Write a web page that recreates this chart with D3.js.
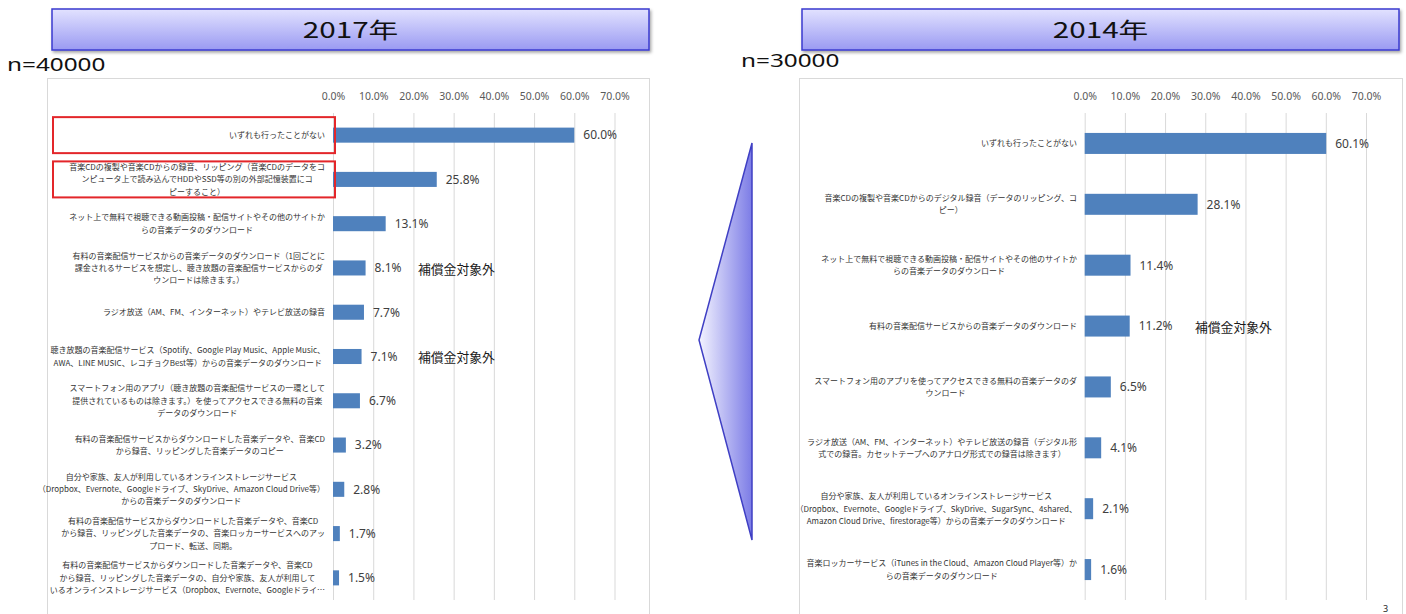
<!DOCTYPE html>
<html><head><meta charset="utf-8">
<script src="https://cdn.jsdelivr.net/npm/d3@7"></script>
<style>body{margin:0;background:#fff;} svg{display:block;}</style>
</head><body>
<svg id="c" width="1406" height="614"></svg>
<script>
// ---------- DATA ----------
const categories2017 = [
  "いずれも行ったことがない",
  "音楽CDの複製や音楽CDからの録音、リッピング（音楽CDのデータをコ\nンピュータ上で読み込んでHDDやSSD等の別の外部記憶装置にコ\nピーすること）",
  "ネット上で無料で視聴できる動画投稿・配信サイトやその他のサイトか\nらの音楽データのダウンロード",
  "有料の音楽配信サービスからの音楽データのダウンロード（1回ごとに\n課金されるサービスを想定し、聴き放題の音楽配信サービスからのダ\nウンロードは除きます。）",
  "ラジオ放送（AM、FM、インターネット）やテレビ放送の録音",
  "聴き放題の音楽配信サービス（Spotify、Google Play Music、Apple Music、\nAWA、LINE MUSIC、レコチョクBest等）からの音楽データのダウンロード",
  "スマートフォン用のアプリ（聴き放題の音楽配信サービスの一環として\n提供されているものは除きます。）を使ってアクセスできる無料の音楽\nデータのダウンロード",
  "有料の音楽配信サービスからダウンロードした音楽データや、音楽CD\nから録音、リッピングした音楽データのコピー",
  "自分や家族、友人が利用しているオンラインストレージサービス\n（Dropbox、Evernote、Googleドライブ、SkyDrive、Amazon Cloud Drive等）\nからの音楽データのダウンロード",
  "有料の音楽配信サービスからダウンロードした音楽データや、音楽CD\nから録音、リッピングした音楽データの、音楽ロッカーサービスへのアッ\nプロード、転送、同期。",
  "有料の音楽配信サービスからダウンロードした音楽データや、音楽CD\nから録音、リッピングした音楽データの、自分や家族、友人が利用して\nいるオンラインストレージサービス（Dropbox、Evernote、Googleドライ…"
];
const values2017 = [60.0, 25.8, 13.1, 8.1, 7.7, 7.1, 6.7, 3.2, 2.8, 1.7, 1.5];

const categories2014 = [
  "いずれも行ったことがない",
  "音楽CDの複製や音楽CDからのデジタル録音（データのリッピング、コ\nピー）",
  "ネット上で無料で視聴できる動画投稿・配信サイトやその他のサイトか\nらの音楽データのダウンロード",
  "有料の音楽配信サービスからの音楽データのダウンロード",
  "スマートフォン用のアプリを使ってアクセスできる無料の音楽データのダ\nウンロード",
  "ラジオ放送（AM、FM、インターネット）やテレビ放送の録音（デジタル形\n式での録音。カセットテープへのアナログ形式での録音は除きます）",
  "自分や家族、友人が利用しているオンラインストレージサービス\n（Dropbox、Evernote、Googleドライブ、SkyDrive、SugarSync、4shared、\nAmazon Cloud Drive、firestorage等）からの音楽データのダウンロード",
  "音楽ロッカーサービス（iTunes in the Cloud、Amazon Cloud Player等）か\nらの音楽データのダウンロード"
];
const values2014 = [60.1, 28.1, 11.4, 11.2, 6.5, 4.1, 2.1, 1.6];

const tickValues = [0, 10, 20, 30, 40, 50, 60, 70];
const exemptIdx2017 = [3, 5];
const exemptIdx2014 = [3];
const highlightIdx2017 = [0, 1];
const exemptText = "補償金対象外";
const titles = ["2017年", "2014年"];
const sampleSizes = ["n=40000", "n=30000"];
const pageNumber = "3";

// ---------- DRAW ----------
const svg = d3.select("#c");
const defs = svg.append("defs");
const tg = defs.append("linearGradient").attr("id","titleGrad").attr("x1",0).attr("y1",0).attr("x2",0).attr("y2",1);
tg.append("stop").attr("offset","0%").attr("stop-color","#e2e2ff");
tg.append("stop").attr("offset","100%").attr("stop-color","#9a9af2");
const ag = defs.append("linearGradient").attr("id","arrowGrad").attr("x1",0).attr("y1",0).attr("x2",1).attr("y2",0);
ag.append("stop").attr("offset","0%").attr("stop-color","#f4f4ff");
ag.append("stop").attr("offset","100%").attr("stop-color","#7c7ce6");
const sh = defs.append("filter").attr("id","shadow").attr("x","-5%").attr("y","-20%").attr("width","110%").attr("height","150%");
sh.append("feDropShadow").attr("dx",1.5).attr("dy",2).attr("stdDeviation",1.5).attr("flood-color","#000").attr("flood-opacity",0.35);

const CJK = "'Noto Sans CJK JP','Noto Sans',sans-serif";

function stretchedText(x, y, txt, size, sx) {
  svg.append("text")
    .attr("transform", `translate(${x},${y}) scale(${sx},1)`)
    .attr("text-anchor", "middle")
    .attr("dy", "0.36em")
    .attr("font-family", CJK)
    .attr("font-size", size)
    .attr("fill", "#111")
    .text(txt);
}

const panels = [
  {cats: categories2017, vals: values2017, exempt: exemptIdx2017, highlight: highlightIdx2017,
   title: titles[0], n: sampleSizes[0], titleX: 52, nX: 7, nY: 65,
   panelX: 47, panelW: 602, x0: 333, x1: 614.5, labelEdge: 325, pad: 0.66, exemptX: 418},
  {cats: categories2014, vals: values2014, exempt: exemptIdx2014, highlight: [],
   title: titles[1], n: sampleSizes[1], titleX: 802, nX: 741, nY: 61,
   panelX: 799, panelW: 603, x0: 1084.7, x1: 1366, labelEdge: 1077, pad: 0.655, exemptX: 1195}
];

const plotTop = 113, plotBottom = 600;

panels.forEach(p => {
  // panel border
  svg.append("rect").attr("x", p.panelX + 0.5).attr("y", 78.5).attr("width", p.panelW).attr("height", 560)
    .attr("fill", "#fff").attr("stroke", "#d9d9d9");
  // title box
  svg.append("rect").attr("x", p.titleX).attr("y", 9).attr("width", 597).attr("height", 41)
    .attr("fill", "url(#titleGrad)").attr("stroke", "#3a3ad0").attr("stroke-width", 1.5)
    .attr("filter", "url(#shadow)");
  stretchedText(p.titleX + 298.5, 30, p.title, 22, 1.35);
  // n=
  svg.append("text")
    .attr("transform", `translate(${p.nX},${p.nY}) scale(1.35,1)`)
    .attr("dy", "0.36em").attr("font-family", "'Noto Sans',sans-serif").attr("font-size", 18)
    .attr("fill", "#111").text(p.n);

  const x = d3.scaleLinear().domain([0, 70]).range([p.x0, p.x1]);
  const y = d3.scaleBand().domain(d3.range(p.cats.length)).range([plotTop, plotBottom])
    .paddingInner(p.pad).paddingOuter(p.pad / 2);

  // gridlines
  const grid = svg.append("g").attr("transform", `translate(0,${plotTop})`)
    .call(d3.axisBottom(x).tickValues(tickValues).tickSize(plotBottom - plotTop).tickFormat(""));
  grid.select(".domain").remove();
  grid.selectAll("line").attr("stroke", "#d9d9d9");

  // tick labels
  const ax = svg.append("g").attr("transform", `translate(0,${plotTop})`)
    .call(d3.axisTop(x).tickValues(tickValues).tickSize(0).tickPadding(13).tickFormat(d => d.toFixed(1) + "%"));
  ax.select(".domain").remove();
  ax.selectAll("text").attr("font-family", "'Noto Sans',sans-serif").attr("font-size", 10.5).attr("fill", "#595959");

  // bars
  svg.append("g").selectAll("rect").data(p.vals).join("rect")
    .attr("x", x(0)).attr("y", (d, i) => y(i)).attr("width", d => x(d) - x(0)).attr("height", y.bandwidth())
    .attr("fill", "#4f81bd");

  // value labels
  svg.append("g").selectAll("text").data(p.vals).join("text")
    .attr("x", d => x(d) + 9).attr("y", (d, i) => y(i) + y.bandwidth() / 2).attr("dy", "0.36em")
    .attr("font-family", "'Noto Sans',sans-serif").attr("font-size", 12).attr("fill", "#404040")
    .text(d => d.toFixed(1) + "%");

  // category labels
  const lh = 12.3;
  p.cats.forEach((c, i) => {
    const lines = c.split("\n");
    const cy = y(i) + y.bandwidth() / 2;
    const g = svg.append("g");
    const nodes = lines.map((ln, k) => g.append("text")
      .attr("y", cy + (k - (lines.length - 1) / 2) * lh).attr("dy", "0.36em")
      .attr("font-family", CJK).attr("font-size", 8).attr("fill", "#333")
      .attr("text-anchor", "middle").text(ln));
    const maxW = d3.max(nodes, nd => nd.node().getComputedTextLength());
    nodes.forEach(nd => nd.attr("x", p.labelEdge - maxW / 2));
  });

  // highlight boxes
  p.highlight.forEach(i => {
    const cy = y(i) + y.bandwidth() / 2;
    svg.append("rect").attr("x", 53).attr("y", cy - 18).attr("width", 282).attr("height", 36)
      .attr("fill", "none").attr("stroke", "#e3262a").attr("stroke-width", 2);
  });

  // exempt annotations
  p.exempt.forEach(i => {
    svg.append("text").attr("x", p.exemptX).attr("y", y(i) + y.bandwidth() / 2 + 1).attr("dy", "0.36em")
      .attr("font-family", CJK).attr("font-size", 12.8).attr("fill", "#1a1a1a").text(exemptText);
  });
});

// arrow triangle
svg.append("polygon").attr("points", "752,143 699,340 752,540")
  .attr("fill", "url(#arrowGrad)").attr("stroke", "#3f3fc4").attr("stroke-width", 1.5);

// page number (bottom-right corner)
svg.append("text").attr("x", 1383).attr("y", 612).attr("font-family", "'Noto Sans',sans-serif")
  .attr("font-size", 9).attr("fill", "#222").text(pageNumber);
</script>
</body></html>
